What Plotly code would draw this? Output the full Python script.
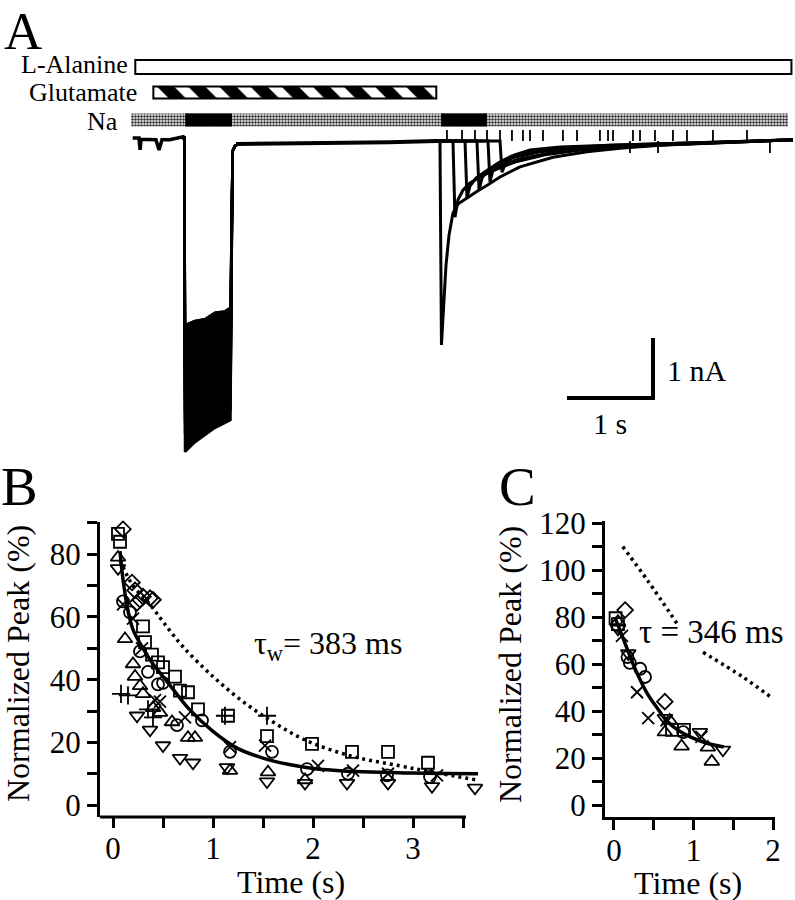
import plotly.graph_objects as go

W, H = 795, 900
FONT = "Liberation Serif"


def fx(px):
    return px / W


def fy(py):
    return 1 - py / H


# ---------------- Panel A data (time in s, current in nA) ----------------
alanine_on, alanine_off = 0.05, 7.68
glutamate_on, glutamate_off = 0.26, 3.55
na_on, na_off = 0.0, 7.64
na_free_on = [0.63, 3.605]
na_free_off = [1.174, 4.14]

pre_t = [0.02, 0.093, 0.104, 0.108, 0.116, 0.22, 0.29, 0.326, 0.36, 0.45, 0.59, 0.605, 0.616]
pre_i = [0.05, 0.05, -0.12, -0.12, 0.03, 0.03, 0.02, -0.15, 0.02, 0.02, 0.07, 0.07, 0.02]

inter_t = [1.22, 1.6, 2.0, 2.5, 3.0, 3.3, 3.55]
inter_i = [-0.05, -0.04, -0.03, -0.03, -0.02, 0.0, 0.0]

pulse1_t = [0.605, 0.620, 0.628, 0.744, 0.860, 0.977, 1.093, 1.157, 1.181, 1.21, 1.25]
pulse1_levels = [
    [-3.07, -3.00, -2.97, -2.86, -2.84, -2.78],
    [-3.25, -3.20, -3.12, -3.08, -3.00, -2.97],
    [-3.42, -3.35, -3.31, -3.22, -3.18, -3.12],
    [-3.60, -3.55, -3.46, -3.42, -3.33, -3.30],
    [-3.78, -3.70, -3.65, -3.57, -3.52, -3.46],
    [-3.95, -3.90, -3.82, -3.76, -3.68, -3.63],
    [-4.13, -4.05, -4.00, -3.92, -3.87, -3.80],
    [-4.30, -4.24, -4.16, -4.10, -4.02, -3.98],
    [-4.48, -4.40, -4.35, -4.26, -4.20, -4.14],
    [-4.66, -4.60, -4.52, -4.45, -4.36, -4.31],
    [-4.88, -4.78, -4.70, -4.62, -4.54, -4.48],
    [-5.18, -5.02, -4.90, -4.78, -4.70, -4.65],
]
pulse1_pre_i = [0.05, 0.05]
pulse1_post_i = [-0.17, -0.08, -0.05]

pulse2_t = [
    [3.547, 3.593, 3.610, 3.640, 3.663, 3.698, 3.744, 3.802, 3.884, 4.035, 4.151, 4.291, 4.523, 4.907, 5.302, 5.686, 6.151, 6.849, 7.698],
    [3.547, 3.744, 3.767, 3.802, 3.860, 3.942, 4.058, 4.233, 4.465, 4.814, 5.221, 5.686, 6.384, 7.698],
    [3.547, 3.884, 3.907, 3.942, 4.012, 4.128, 4.291, 4.523, 4.872, 5.337, 5.919, 7.698],
    [3.547, 4.023, 4.047, 4.081, 4.151, 4.267, 4.465, 4.756, 5.221, 5.919, 7.698],
    [3.547, 4.151, 4.174, 4.209, 4.291, 4.430, 4.640, 4.988, 5.570, 7.698],
    [3.547, 4.291, 4.314, 4.360, 4.465, 4.640, 4.988, 5.570, 7.698],
]
pulse2_i = [
    [0, 0, -3.4, -2.65, -2.07, -1.57, -1.2, -1.05, -0.97, -0.83, -0.73, -0.6, -0.43, -0.27, -0.18, -0.12, -0.07, -0.03, 0.02],
    [0, 0, -1.27, -0.98, -0.82, -0.70, -0.6, -0.48, -0.35, -0.23, -0.15, -0.1, -0.05, 0.02],
    [0, 0, -0.95, -0.75, -0.62, -0.5, -0.4, -0.3, -0.2, -0.13, -0.08, 0.02],
    [0, 0, -0.82, -0.62, -0.48, -0.37, -0.27, -0.18, -0.12, -0.07, 0.02],
    [0, 0, -0.68, -0.48, -0.35, -0.25, -0.17, -0.12, -0.07, 0.02],
    [0, 0, -0.52, -0.35, -0.23, -0.15, -0.1, -0.07, 0.02],
]

stim_tick_t = [3.674, 3.849, 4.0, 4.140, 4.291, 4.430, 4.558, 4.640, 4.791, 5.023, 5.186,
               5.453, 5.547, 5.605, 5.837, 5.919, 6.093, 6.302, 6.465, 6.767, 7.163]
stim_tick_height = 0.2
spike_t = [5.802, 6.128, 7.43]
spike_depth = -0.2

scale_t, scale_i = 1.0, 1.0  # 1 s, 1 nA

# ---------------- Panel B data ----------------
B_sq_t = [0.05, 0.07, 0.30, 0.32, 0.39, 0.45, 0.50, 0.62, 0.67, 0.75, 0.85, 1.15, 1.54, 1.99, 2.39, 2.75, 3.15]
B_sq_v = [86.5, 84, 57, 52, 48, 45.5, 44, 41, 36.5, 36, 30.5, 28.5, 22, 19.5, 17, 17, 13.5]
B_circ_t = [0.10, 0.17, 0.27, 0.35, 0.45, 0.50, 0.64, 0.89, 1.17, 1.59, 1.94, 2.35, 2.74, 3.17]
B_circ_v = [65, 61.5, 49, 42.5, 38.5, 39, 25.5, 27, 17, 17, 11.5, 10, 9.5, 9]
B_tup_t = [0.05, 0.12, 0.20, 0.22, 0.27, 0.30, 0.40, 0.47, 0.59, 0.75, 0.82, 1.17, 1.55, 1.92]
B_tup_v = [79, 53, 45, 41, 38, 35.5, 31, 29.5, 26.5, 21.5, 21.5, 11, 10.5, 8]
B_tdn_t = [0.05, 0.24, 0.37, 0.50, 0.67, 0.80, 1.14, 1.54, 1.92, 2.34, 2.75, 3.19, 3.62]
B_tdn_v = [75.5, 28.5, 24, 19, 15, 13.5, 12, 7.5, 7, 7, 7, 6, 5.5]
B_plus_t = [0.08, 0.15, 0.35, 0.40, 1.12, 1.54]
B_plus_v = [35.5, 35, 30.5, 28, 28.5, 28.5]
B_x_t = [0.10, 0.20, 0.29, 0.42, 0.47, 0.72, 1.17, 1.52, 2.05, 2.40, 2.75, 3.24]
B_x_v = [64, 59.5, 50, 33.5, 33, 28, 18.5, 19, 12.5, 11, 10, 9.5]
B_dia_t = [0.10, 0.19, 0.22, 0.24, 0.27, 0.30, 0.37, 0.40]
B_dia_v = [88, 71, 68.5, 64.5, 65.5, 66.5, 66, 65.5]

B_fit_t = [0.07, 0.1, 0.15, 0.2, 0.3, 0.4, 0.5, 0.6, 0.75, 1.0, 1.25, 1.5, 1.75, 2.0, 2.5, 3.0, 3.65]
B_fit_v = [81, 72, 62, 56, 50, 45, 41, 37, 31, 23.5, 18, 15, 13, 11.7, 10.6, 10.2, 10]
B_dot_t = [0.07, 0.2, 0.37, 0.5, 0.7, 1.0, 1.3, 1.6, 1.94, 2.4, 2.87, 3.2, 3.64]
B_dot_v = [78, 70, 64, 58.5, 50.5, 41, 33, 26.5, 20.5, 15.5, 12.5, 10.5, 8]

B_xticks = [0, 0.5, 1, 1.5, 2, 2.5, 3, 3.5]
B_xlabels = ["0", " ", "1", " ", "2", " ", "3", " "]
B_yticks = [0, 10, 20, 30, 40, 50, 60, 70, 80, 90]
B_ylabels = ["0", " ", "20", " ", "40", " ", "60", " ", "80", " "]

# ---------------- Panel C data ----------------
C_sq_t = [0.02, 0.05, 0.73, 0.88]
C_sq_v = [79.5, 77, 32, 32]
C_dia_t = [0.14, 0.64]
C_dia_v = [83, 44]
C_circ_t = [0.17, 0.20, 0.33, 0.39, 0.87]
C_circ_v = [63, 60.5, 58, 54.5, 31]
C_x_t = [0.10, 0.29, 0.43, 0.66, 1.10]
C_x_v = [72, 48, 37, 36, 29]
C_tup_t = [0.05, 0.64, 0.70, 0.85, 1.18, 1.23]
C_tup_v = [78, 31, 36, 25, 24.5, 18.5]
C_tdn_t = [0.05, 0.18, 0.64, 1.08, 1.37]
C_tdn_v = [75, 64.5, 37, 31, 23.5]

C_fit_t = [0.01, 0.08, 0.16, 0.24, 0.41, 0.55, 0.66, 0.8, 0.96, 1.15, 1.38]
C_fit_v = [80, 74, 67, 60, 48, 41, 36, 32, 29, 26.5, 24.7]
C_dot_t = [0.11, 0.42, 0.79, None, 1.12, 1.62, 1.99]
C_dot_v = [110, 95.7, 77.4, None, 65, 54.5, 45.5]

C_xticks = [0, 0.5, 1, 1.5, 2]
C_xlabels = ["0", " ", "1", " ", "2"]
C_yticks = [0, 10, 20, 30, 40, 50, 60, 70, 80, 90, 100, 110, 120]
C_ylabels = ["0", " ", "20", " ", "40", " ", "60", " ", "80", " ", "100", " ", "120"]

# ---------------- Figure ----------------
fig = go.Figure()
BLACK = "black"

# Panel A: stimulus bars (x3 / y4)
fig.add_trace(go.Bar(x=[alanine_off - alanine_on], base=[alanine_on], y=[67], width=[14],
                     orientation="h", xaxis="x3", yaxis="y4",
                     marker=dict(color="white", line=dict(color=BLACK, width=2))))
fig.add_trace(go.Bar(x=[glutamate_off - glutamate_on], base=[glutamate_on], y=[92.5], width=[12],
                     orientation="h", xaxis="x3", yaxis="y4",
                     marker=dict(color="white", line=dict(color=BLACK, width=2),
                                 pattern=dict(shape="\\", fgcolor=BLACK, bgcolor="white",
                                              size=22, solidity=0.55, fillmode="replace"))))
fig.add_trace(go.Bar(x=[na_off - na_on], base=[na_on], y=[120], width=[13],
                     orientation="h", xaxis="x3", yaxis="y4",
                     marker=dict(color="white", line=dict(width=0),
                                 pattern=dict(shape=".", fgcolor="#333", bgcolor="white",
                                              size=3, solidity=0.55, fillmode="replace"))))
fig.add_trace(go.Bar(x=[b - a for a, b in zip(na_free_on, na_free_off)], base=na_free_on,
                     y=[120] * len(na_free_on), width=[13] * len(na_free_on),
                     orientation="h", xaxis="x3", yaxis="y4",
                     marker=dict(color=BLACK, line=dict(width=0))))

# Panel A: current traces (x3 / y3)
trace_style = dict(mode="lines", xaxis="x3", yaxis="y3", hoverinfo="skip")
fig.add_trace(go.Scatter(x=pre_t, y=pre_i, line=dict(color=BLACK, width=3.5), **trace_style))
fig.add_trace(go.Scatter(x=inter_t, y=inter_i, line=dict(color=BLACK, width=4), **trace_style))
for k, lv in enumerate(pulse1_levels):
    ys = pulse1_pre_i + lv + pulse1_post_i
    kw = dict(fill="tonexty", fillcolor=BLACK) if k == len(pulse1_levels) - 1 else {}
    if k == len(pulse1_levels) - 1:
        # envelope fill between first (shallowest) and last (deepest) sweep
        fig.add_trace(go.Scatter(x=pulse1_t, y=pulse1_pre_i + pulse1_levels[0] + pulse1_post_i,
                                 line=dict(color=BLACK, width=2.5), **trace_style))
    fig.add_trace(go.Scatter(x=pulse1_t, y=ys, line=dict(color=BLACK, width=2.5), **kw, **trace_style))
for ts, cs in zip(pulse2_t, pulse2_i):
    fig.add_trace(go.Scatter(x=ts, y=cs, line=dict(color=BLACK, width=3), **trace_style))

tick_x, tick_y = [], []
for t in stim_tick_t:
    tick_x += [t, t, None]
    tick_y += [0, stim_tick_height, None]
for t in spike_t:
    tick_x += [t, t, None]
    tick_y += [0, spike_depth, None]
fig.add_trace(go.Scatter(x=tick_x, y=tick_y, line=dict(color=BLACK, width=1.8), **trace_style))

# scale bar: corner position is layout
sb_t0, sb_i0 = 6.07, -4.283
fig.add_trace(go.Scatter(x=[sb_t0 - scale_t, sb_t0, sb_t0], y=[sb_i0, sb_i0, sb_i0 + scale_i],
                         mode="lines", line=dict(color=BLACK, width=4),
                         xaxis="x3", yaxis="y3", hoverinfo="skip"))

# Panel B & C markers
mline = dict(color=BLACK, width=1.8)


def add_markers(t, v, symbol, size, ax):
    fig.add_trace(go.Scatter(x=t, y=v, mode="markers", xaxis=ax[0], yaxis=ax[1], cliponaxis=False,
                             marker=dict(symbol=symbol, size=size, color=BLACK, line=mline),
                             hoverinfo="skip"))


for ax, sets in [(("x", "y"), [(B_sq_t, B_sq_v, "square-open", 12), (B_circ_t, B_circ_v, "circle-open", 12),
                                (B_tup_t, B_tup_v, "triangle-up-open", 13), (B_tdn_t, B_tdn_v, "triangle-down-open", 13),
                                (B_plus_t, B_plus_v, "cross-thin", 13), (B_x_t, B_x_v, "x-thin", 12),
                                (B_dia_t, B_dia_v, "diamond-open", 12)]),
                 (("x2", "y2"), [(C_sq_t, C_sq_v, "square-open", 12), (C_circ_t, C_circ_v, "circle-open", 12),
                                  (C_tup_t, C_tup_v, "triangle-up-open", 13), (C_tdn_t, C_tdn_v, "triangle-down-open", 13),
                                  (C_x_t, C_x_v, "x-thin", 12), (C_dia_t, C_dia_v, "diamond-open", 12)])]:
    for t, v, s, sz in sets:
        add_markers(t, v, s, sz, ax)

fig.add_trace(go.Scatter(x=B_dot_t, y=B_dot_v, mode="lines", line=dict(color=BLACK, width=3.5, dash="3px,4px", shape="spline"),
                         xaxis="x", yaxis="y", hoverinfo="skip"))
fig.add_trace(go.Scatter(x=B_fit_t, y=B_fit_v, mode="lines", line=dict(color=BLACK, width=3.5, shape="spline"),
                         xaxis="x", yaxis="y", hoverinfo="skip"))
fig.add_trace(go.Scatter(x=C_dot_t, y=C_dot_v, mode="lines", line=dict(color=BLACK, width=3.5, dash="3px,4px", shape="spline"),
                         xaxis="x2", yaxis="y2", hoverinfo="skip", connectgaps=False))
fig.add_trace(go.Scatter(x=C_fit_t, y=C_fit_v, mode="lines", line=dict(color=BLACK, width=3.5, shape="spline"),
                         xaxis="x2", yaxis="y2", hoverinfo="skip"))

tickfont = dict(family=FONT, size=31, color=BLACK)
axcommon = dict(showgrid=False, zeroline=False, ticks="outside", ticklen=10, tickwidth=3,
                tickcolor=BLACK, tickfont=tickfont, tickangle=0, fixedrange=True)

fig.update_layout(
    width=W, height=H, margin=dict(l=0, r=0, t=0, b=0, autoexpand=False),
    paper_bgcolor="white", plot_bgcolor="white", showlegend=False, barmode="overlay",
    font=dict(family=FONT, color=BLACK),
    xaxis=dict(domain=[fx(100), fx(482)], range=[-0.13, 3.69], tickmode="array", tickvals=B_xticks,
               ticktext=B_xlabels, showline=False, anchor="y", ticklabelstandoff=-6, **axcommon),
    yaxis=dict(domain=[fy(817), fy(522)], range=[-3.8, 90.3], tickmode="array", tickvals=B_yticks,
               ticktext=B_ylabels, showline=True, linewidth=3, linecolor=BLACK, anchor="x", **axcommon),
    xaxis2=dict(domain=[fx(605), fx(775)], range=[-0.113, 2.025], tickmode="array", tickvals=C_xticks,
                ticktext=C_xlabels, showline=True, linewidth=3, linecolor=BLACK, anchor="y2",
                ticklabelstandoff=-6, **axcommon),
    yaxis2=dict(domain=[fy(817), fy(521)], range=[-5.1, 120.9], tickmode="array", tickvals=C_yticks,
                ticktext=C_ylabels, showline=True, linewidth=3, linecolor=BLACK, anchor="x2", **axcommon),
    xaxis3=dict(domain=[fx(131), fx(793)], range=[0, 7.698], visible=False, anchor="y3", fixedrange=True),
    yaxis3=dict(domain=[fy(460), fy(120)], range=[(141 - 460) / 60, (141 - 120) / 60], visible=False,
                anchor="x3", fixedrange=True),
    yaxis4=dict(domain=[fy(130), fy(52)], range=[130, 52], visible=False, anchor="x3", fixedrange=True),
)

# x-axis line of panel B (ends at last tick)
fig.add_shape(type="line", xref="x", yref="y domain", x0=-0.13, x1=3.53, y0=0, y1=0,
              line=dict(color=BLACK, width=3))


def ann(text, px, py, size=30, xanchor="center", yanchor="middle", angle=0):
    fig.add_annotation(text=text, x=fx(px), y=fy(py), xref="paper", yref="paper", showarrow=False,
                       xanchor=xanchor, yanchor=yanchor, textangle=angle,
                       font=dict(family=FONT, size=size, color=BLACK))


ann("A", 23, 31, size=53)
ann("B", 19, 486, size=55)
ann("C", 517, 486, size=55)
ann("L-Alanine", 130, 64, size=26, xanchor="right")
ann("Glutamate", 139, 93, size=26, xanchor="right")
ann("Na", 120, 121, size=26, xanchor="right")
ann("1 nA", 665, 370, size=30, xanchor="left")
ann("1 s", 610, 423, size=30)
ann("Normalized Peak (%)", 18, 664, size=32, angle=-90)
ann("Time (s)", 291, 882, size=32)
ann("Normalized Peak (%)", 510, 665, size=32, angle=-90)
ann("Time (s)", 688, 883, size=32)
ann("τ<sub>w</sub>= 383 ms", 252, 645, size=32, xanchor="left")
ann("τ = 346 ms", 637, 632, size=33, xanchor="left")

fig.write_html(
    "out.html",
    config={"displayModeBar": False},
    post_script="document.documentElement.style.overflow='hidden';"
                "document.body.style.overflow='hidden';document.body.style.margin='0';",
)
